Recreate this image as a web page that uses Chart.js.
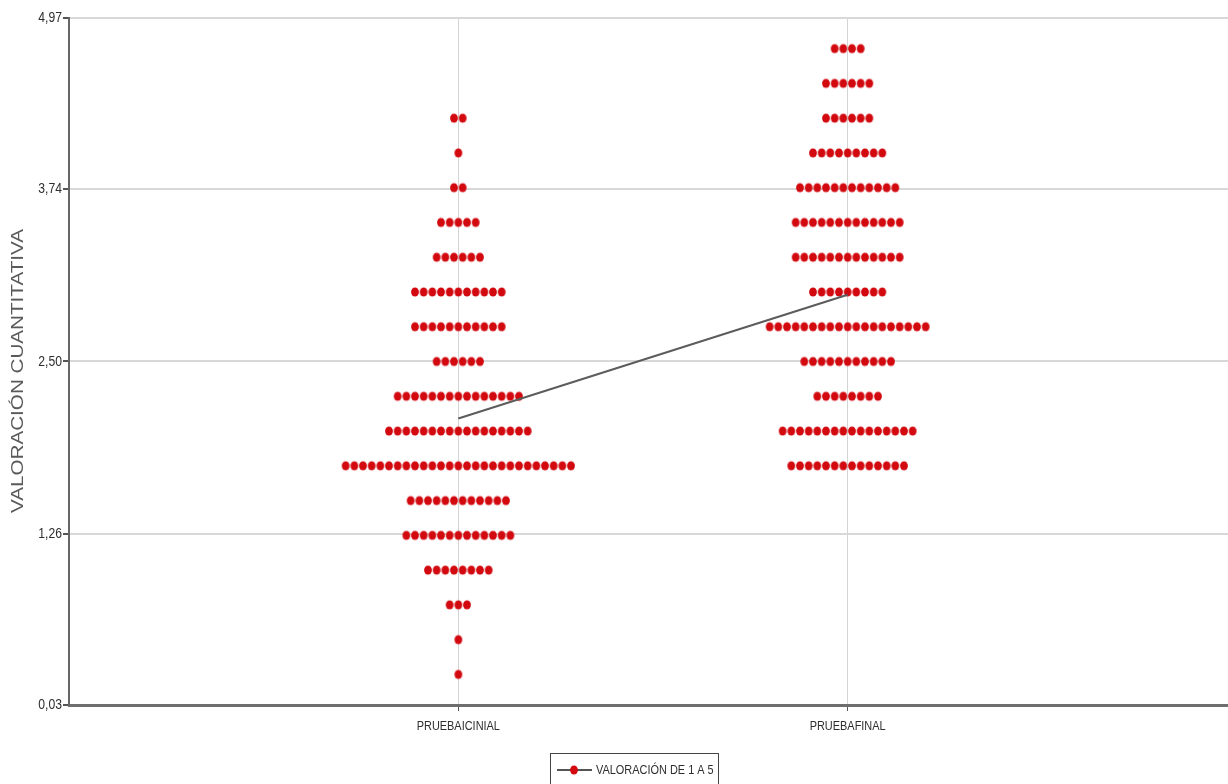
<!DOCTYPE html>
<html lang="es">
<head>
<meta charset="utf-8">
<title>Valoración cuantitativa</title>
<script src="https://cdn.jsdelivr.net/npm/chart.js@4.4.1/dist/chart.umd.min.js"></script>
<style>
  html, body { margin: 0; padding: 0; background: #ffffff; overflow: hidden; }
  #wrap { width: 1233px; height: 784px; position: relative; }
  canvas { display: block; }
</style>
</head>
<body>
<div id="wrap"><canvas id="chart" width="1233" height="784"></canvas></div>
<script>
// Test groups on the x axis
const categories = ['PRUEBAICINIAL', 'PRUEBAFINAL'];

// Score levels (one row of dots per level)
const scoreLevels = [4.75, 4.5, 4.25, 4.0, 3.75, 3.5, 3.25, 3.0, 2.75, 2.5, 2.25, 2.0, 1.75, 1.5, 1.25, 1.0, 0.75, 0.5, 0.25];

// Number of students at each score level
const initialCounts = [0, 0, 2, 1, 2, 5, 6, 11, 11, 6, 15, 17, 27, 12, 13, 8, 3, 1, 1];
const finalCounts   = [4, 6, 6, 9, 12, 13, 13, 9, 19, 11, 8, 16, 14, 0, 0, 0, 0, 0, 0];

// Group means joined by the line
const meanValues = [2.09, 2.98];

// Y axis tick values
const yTicks = [0.03, 1.26, 2.50, 3.74, 4.97];

const seriesLabel = 'VALORACIÓN DE 1 A 5';
const axisTitle = 'VALORACIÓN CUANTITATIVA';

// ---- styling ----
const FONT = "'Liberation Sans', Arial, sans-serif";
const TEXT_COLOR = '#2e2e2e';
const DOT_COLOR = '#d20a10';
const DOT_STEP = 0.02226;      // horizontal spacing between stacked dots, in x-axis units

// Slightly tall elliptical dot marker
function makeDot() {
  const c = document.createElement('canvas');
  c.width = 10; c.height = 12;
  const g = c.getContext('2d');
  g.fillStyle = DOT_COLOR;
  g.beginPath();
  g.ellipse(5, 6, 3.9, 4.6, 0, 0, Math.PI * 2);
  g.fill();
  return c;
}
const dotImage = makeDot();

// Stack the dots of every level side by side around the group's position
function dotPoints() {
  const pts = [];
  [initialCounts, finalCounts].forEach((counts, g) => {
    counts.forEach((n, k) => {
      for (let i = 0; i < n; i++) {
        pts.push({ x: g + 1 + (i - (n - 1) / 2) * DOT_STEP, y: scoreLevels[k] });
      }
    });
  });
  return pts;
}

// Condensed text: regular face squeezed horizontally
function condensedText(ctx, text, x, y, size, squeeze, align) {
  ctx.save();
  ctx.translate(x, y);
  ctx.scale(squeeze, 1);
  ctx.font = size + 'px ' + FONT;
  ctx.textAlign = align;
  ctx.textBaseline = 'middle';
  ctx.fillText(text, 0, 0);
  ctx.restore();
}

// Tick labels of both axes
const tickLabelPlugin = {
  id: 'tickLabels',
  afterDraw(chart) {
    const ctx = chart.ctx;
    const xs = chart.scales.x, ys = chart.scales.y;
    ctx.save();
    ctx.fillStyle = TEXT_COLOR;
    yTicks.forEach(v => {
      condensedText(ctx, v.toFixed(2).replace('.', ','), ys.right - 7, ys.getPixelForValue(v), 14.5, 0.84, 'right');
    });
    categories.forEach((c, i) => {
      condensedText(ctx, c, xs.getPixelForValue(i + 1), xs.top + 21, 13.5, 0.81, 'center');
    });
    ctx.restore();
  }
};

// Rotated, stretched y-axis title
const yTitlePlugin = {
  id: 'yTitle',
  afterDraw(chart) {
    const ctx = chart.ctx;
    ctx.save();
    ctx.translate(19, 371);
    ctx.rotate(-Math.PI / 2);
    ctx.scale(1.29, 1);
    ctx.font = '16px ' + FONT;
    ctx.fillStyle = '#5a5a5a';
    ctx.textAlign = 'center';
    ctx.textBaseline = 'middle';
    ctx.fillText(axisTitle, 0, 0);
    ctx.restore();
  }
};

// Boxed legend under the x axis
const boxLegendPlugin = {
  id: 'boxLegend',
  afterDraw(chart) {
    const ctx = chart.ctx;
    const ds = chart.data.datasets[0];
    ctx.save();
    ctx.strokeStyle = '#444';
    ctx.lineWidth = 1;
    ctx.strokeRect(550.5, 753.5, 168, 40);
    ctx.strokeStyle = '#555';
    ctx.lineWidth = 2;
    ctx.beginPath();
    ctx.moveTo(557, 770);
    ctx.lineTo(592, 770);
    ctx.stroke();
    ctx.drawImage(dotImage, 574 - 5, 770 - 6);
    ctx.fillStyle = TEXT_COLOR;
    condensedText(ctx, ds.label, 596, 770, 13.5, 0.81, 'left');
    ctx.restore();
  }
};

const whiteBg = {
  id: 'whiteBg',
  beforeDraw(chart) {
    const ctx = chart.ctx;
    ctx.save();
    ctx.fillStyle = '#fff';
    ctx.fillRect(0, 0, chart.width, chart.height);
    ctx.restore();
  }
};

new Chart(document.getElementById('chart'), {
  type: 'scatter',
  data: {
    datasets: [
      {
        label: seriesLabel,
        data: meanValues.map((v, i) => ({ x: i + 1, y: v })),
        showLine: true,
        borderColor: '#5c5c5c',
        borderWidth: 2,
        pointRadius: 0,
        pointHoverRadius: 0,
        order: 0
      },
      {
        label: 'dots',
        data: dotPoints(),
        pointStyle: dotImage,
        pointRadius: 4,
        order: 1
      }
    ]
  },
  options: {
    responsive: false,
    animation: false,
    events: [],
    layout: { padding: { top: 18, right: 0, left: 0, bottom: 0 } },
    plugins: {
      legend: { display: false },
      tooltip: { enabled: false }
    },
    scales: {
      x: {
        type: 'linear',
        min: 0,
        max: 2.977,
        afterBuildTicks(scale) { scale.ticks = categories.map((c, i) => ({ value: i + 1 })); },
        afterFit(scale) { scale.height = 79; },
        ticks: { display: false },
        grid: {
          color: '#d4d4d4',
          lineWidth: 1,
          tickColor: '#555',
          tickLength: 6
        },
        border: { color: '#6e6e6e', width: 3 }
      },
      y: {
        type: 'linear',
        min: 0.03,
        max: 4.97,
        afterBuildTicks(scale) { scale.ticks = yTicks.map(v => ({ value: v })); },
        afterFit(scale) { scale.width = 69; },
        ticks: { display: false },
        grid: {
          color: '#d8d8d8',
          lineWidth: 2,
          tickColor: '#555',
          tickLength: 6
        },
        border: { color: '#666', width: 2 }
      }
    }
  },
  plugins: [whiteBg, tickLabelPlugin, yTitlePlugin, boxLegendPlugin]
});
</script>
</body>
</html>
